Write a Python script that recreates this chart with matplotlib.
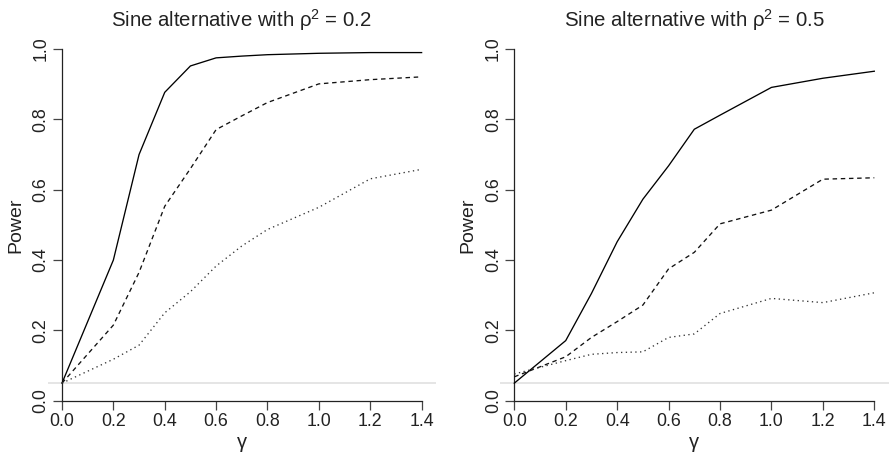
import matplotlib
matplotlib.use("Agg")
import matplotlib.pyplot as plt

plt.rcParams['font.family'] = ['Liberation Sans', 'DejaVu Sans']
plt.rcParams['mathtext.fontset'] = 'custom'
plt.rcParams['mathtext.rm'] = 'Liberation Sans'
plt.rcParams['mathtext.it'] = 'Liberation Sans:italic'

# valeurs de gamma
gamma = [0.0, 0.2, 0.3, 0.4, 0.5, 0.6, 0.7, 0.8, 1.0, 1.2, 1.4]

# puissance pour rho^2 = 0.2
p02_plein = [0.05, 0.40, 0.70, 0.877, 0.952, 0.975, 0.980, 0.984, 0.988, 0.990, 0.990]
p02_tirets = [0.05, 0.215, 0.365, 0.553, 0.660, 0.771, 0.810, 0.848, 0.901, 0.913, 0.921]
p02_points = [0.05, 0.118, 0.158, 0.250, 0.310, 0.383, 0.440, 0.487, 0.550, 0.631, 0.658]

# puissance pour rho^2 = 0.5
p05_plein = [0.05, 0.171, 0.305, 0.452, 0.573, 0.668, 0.772, 0.812, 0.891, 0.917, 0.937]
p05_tirets = [0.068, 0.125, 0.180, 0.225, 0.272, 0.375, 0.422, 0.503, 0.542, 0.630, 0.634]
p05_points = [0.076, 0.114, 0.132, 0.137, 0.139, 0.180, 0.190, 0.248, 0.291, 0.279, 0.307]

niveau = 0.05
titres = ["Sine alternative with ρ$^2$ = 0.2", "Sine alternative with ρ$^2$ = 0.5"]
xticks = [0.0, 0.2, 0.4, 0.6, 0.8, 1.0, 1.2, 1.4]
yticks = [0.0, 0.2, 0.4, 0.6, 0.8, 1.0]

W, H = 892, 459
fig = plt.figure(figsize=(W / 100, H / 100), dpi=100)

# position des zones de trace en pixels (gauche, droite)
zones = [(47.6, 436.0), (499.9, 888.7)]
haut, bas = 35.0, 414.8

series = [(p02_plein, p02_tirets, p02_points), (p05_plein, p05_tirets, p05_points)]

for k in range(2):
    g, d = zones[k]
    ax = fig.add_axes([g / W, 1 - bas / H, (d - g) / W, (bas - haut) / H])
    plein, tirets, points = series[k]

    ax.axhline(niveau, color="#e3e3e3", lw=1.3, zorder=1)
    ax.plot(gamma, plein, color="black", lw=0.95, zorder=3)
    ax.plot(gamma, tirets, color="#111111", lw=0.95, dashes=(3.4, 2.8), zorder=3)
    ax.plot(gamma, points, color="#333333", lw=0.95, dashes=(1.0, 2.6), zorder=3)

    ax.set_xlim(-0.056, 1.456)
    ax.set_ylim(-0.04, 1.04)

    for s in ["top", "right"]:
        ax.spines[s].set_visible(False)
    ax.spines["left"].set_position(("data", 0))
    ax.spines["bottom"].set_position(("data", 0))
    ax.spines["left"].set_bounds(0, 1)
    ax.spines["bottom"].set_bounds(0, 1.4)
    for s in ["left", "bottom"]:
        ax.spines[s].set_linewidth(0.9)
        ax.spines[s].set_color("#222222")

    ax.set_xticks(xticks)
    ax.set_xticklabels(["%.1f" % v for v in xticks])
    ax.set_yticks(yticks)
    ax.set_yticklabels(["%.1f" % v for v in yticks], rotation=90, va="center")
    ax.tick_params(axis="both", length=6.5, width=0.9, color="#444444",
                   labelsize=12.8, labelcolor="#222222", pad=2.5)
    ax.patch.set_visible(False)

    centre = (g + d) / 2 / W
    fig.text(centre, 1 - 26.7 / H, titres[k], ha="center", va="baseline",
             fontsize=14.7, color="#222222")
    fig.text(centre, 1 - 448 / H, "γ", ha="center", va="baseline",
             fontsize=14.5, color="#222222")
    fig.text((g - 32) / W, 1 - (haut + bas) / 2 / H, "Power", rotation=90,
             ha="center", va="center", fontsize=14, color="#222222")

fig.savefig("out.png", dpi=100)
